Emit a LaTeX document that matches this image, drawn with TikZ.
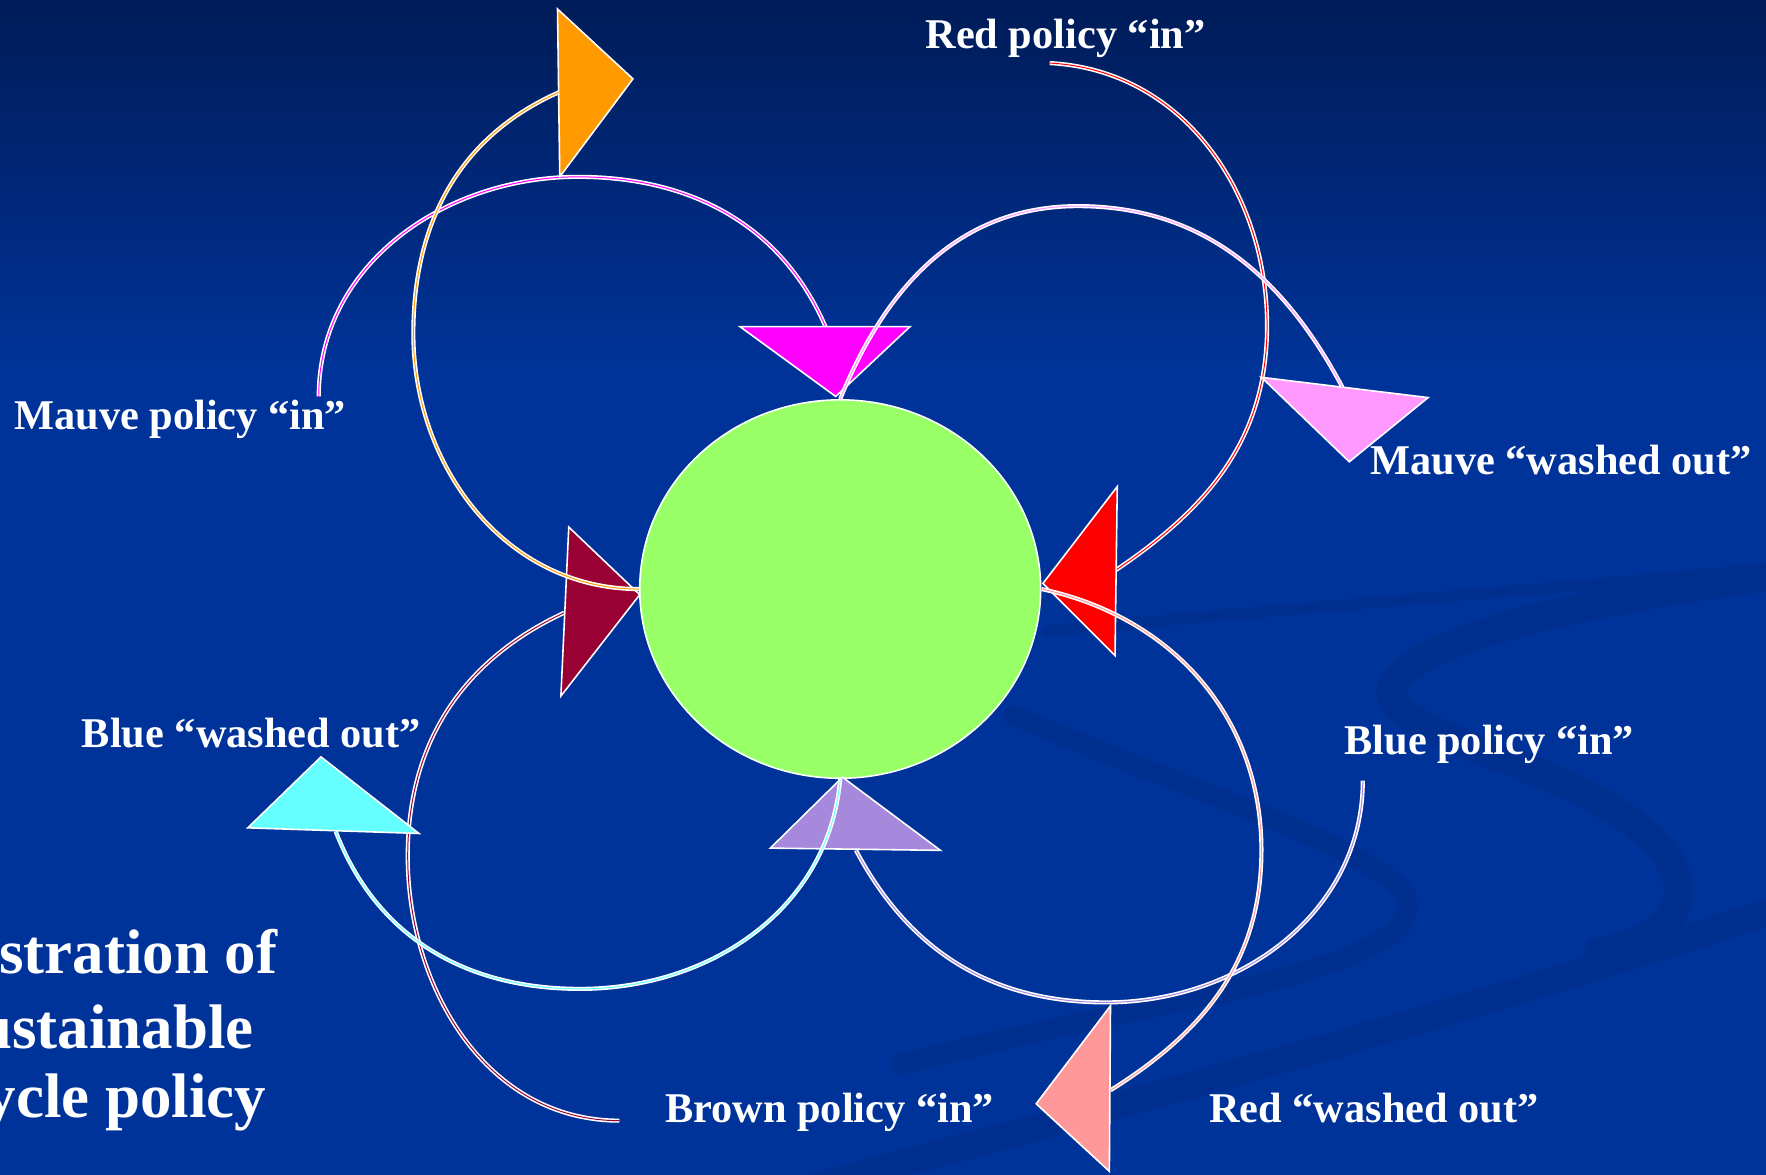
\documentclass[tikz,border=0pt]{standalone}
\usepackage{fontspec}
\setmainfont{Liberation Serif}
\usetikzlibrary{shapes.geometric}

\definecolor{bgtop}{HTML}{001C58}
\definecolor{bgblue}{HTML}{003399}
\definecolor{swoosh}{HTML}{002F90}
\definecolor{hubgreen}{HTML}{99FF66}
\definecolor{orangeA}{HTML}{FF9900}
\definecolor{magentaA}{HTML}{FF00FF}
\definecolor{mauvewash}{HTML}{FF99FF}
\definecolor{redA}{HTML}{FF0000}
\definecolor{maroonA}{HTML}{990033}
\definecolor{cyanA}{HTML}{66FFFF}
\definecolor{lavenderA}{HTML}{A688DC}
\definecolor{salmonA}{HTML}{FF9999}

\tikzset{
  tri/.style={draw=white, line width=0.4pt},
  flow/.style={draw=white, double=#1, double distance=0.25pt, line width=0.4pt},
  hub/.style={ellipse, fill=hubgreen, draw=white, line width=0.4pt,
    minimum width=35.6mm, minimum height=33.6mm, inner sep=0pt},
  lbl/.style={text=white, font=\fontsize{10.7}{12}\selectfont\bfseries,
    inner sep=0pt, anchor=base west},
  ttl/.style={text=white, font=\fontsize{15.9}{19}\selectfont\bfseries,
    inner sep=0pt, anchor=base east},
  band/.style={draw=swoosh, line cap=round},
}

\begin{document}
\begin{tikzpicture}[x=0.1mm, y=0.1mm]
    \useasboundingbox (0,0) rectangle (1568,-1043);
    \clip (0,0) rectangle (1568,-1043);

    % Fond
    \fill[bgblue] (0,0) rectangle (1568,-1043);
    \shade[top color=bgtop, bottom color=bgblue] (0,0) rectangle (1568,-330);
    \draw[band, line width=1mm] (930,-560) .. controls (1150,-540) and (1350,-525) .. (1568,-505);
    \draw[band, line width=2.6mm] (1568,-512) .. controls (1400,-535) and (1240,-570) .. (1235,-615)
        .. controls (1240,-660) and (1420,-680) .. (1480,-760)
        .. controls (1510,-810) and (1470,-835) .. (1420,-845);
    \draw[band, line width=1.8mm] (900,-635) .. controls (1050,-700) and (1200,-745) .. (1245,-790)
        .. controls (1270,-830) and (1200,-860) .. (1010,-897)
        .. controls (900,-920) and (840,-935) .. (800,-945);
    \draw[band, line width=2.4mm] (700,-1060) .. controls (1000,-980) and (1300,-900) .. (1568,-810);

    % Centre
    \node[hub] (hub) at (746,-523) {};

    % Etiquettes
    \node[lbl] (mauvein) at (12,-381) {Mauve policy “in”};
    \node[lbl] (redin) at (821,-43) {Red policy “in”};
    \node[lbl] (mauveout) at (1216,-421) {Mauve “washed out”};
    \node[lbl] (blueout) at (72,-664) {Blue “washed out”};
    \node[lbl] (bluein) at (1193,-670) {Blue policy “in”};
    \node[lbl] (brownin) at (590,-997) {Brown policy “in”};
    \node[lbl] (redout) at (1073,-997) {Red “washed out”};

    % Titre (coupé à gauche)
    \node[ttl] (title1) at (247,-864) {stration of};
    \node[ttl] (title2) at (226,-931) {ustainable};
    \node[ttl] (title3) at (237,-992) {ycle policy};

    % Extrémités des courbes
    \coordinate (mauvestart) at (283,-352);
    \coordinate (magentaend) at (737,-300);
    \coordinate (redstart) at (932,-56);
    \coordinate (redend) at (991,-506);
    \coordinate (bluestart) at (1210,-693);
    \coordinate (lavenderend) at (760,-755);
    \coordinate (brownstart) at (550,-995);
    \coordinate (maroonend) at (501,-544);
    \coordinate (pinkend) at (1192,-344);
    \coordinate (salmonend) at (986,-968);
    \coordinate (cyanend) at (298,-738);
    \coordinate (orangeend) at (496,-82);

    % Politiques "in"
    \draw[flow=magentaA] (mauvestart) to[out=90, in=180] (513,-157) to[out=0, in=111] (magentaend);
    \draw[flow=redA] (redstart) to[out=-3, in=90] (1125,-289) to[out=-90, in=34] (redend);
    \draw[flow=lavenderA] (bluestart) to[out=-90, in=0] (982,-890) to[out=180, in=-62] (lavenderend);
    \draw[flow=maroonA] (brownstart) to[out=180, in=-90] (362,-760) to[out=90, in=-155] (maroonend);

    % Triangles
    \filldraw[tri, fill=orangeA] (495,-8) -- (562,-70) -- (497,-157) -- cycle;
    \filldraw[tri, fill=magentaA] (657,-290) -- (808,-290) -- (742,-352) -- cycle;
    \filldraw[tri, fill=mauvewash] (1120,-335) -- (1268,-353) -- (1198,-410) -- cycle;
    \filldraw[tri, fill=redA] (992,-432) -- (926,-518) -- (990,-582) -- cycle;
    \filldraw[tri, fill=maroonA] (505,-468) -- (568,-528) -- (498,-618) -- cycle;
    \filldraw[tri, fill=cyanA] (285,-672) -- (220,-735) -- (372,-740) -- cycle;
    \filldraw[tri, fill=lavenderA] (748,-690) -- (684,-753) -- (835,-755) -- cycle;
    \filldraw[tri, fill=salmonA] (986,-893) -- (920,-980) -- (985,-1040) -- cycle;

    % Sorties "washed out"
    \draw[flow=mauvewash] (hub.north) to[out=68, in=180] (957,-183) to[out=0, in=118] (pinkend);
    \draw[flow=salmonA] (hub.east) to[out=-12, in=90] (1120,-755) to[out=-90, in=32] (salmonend);
    \draw[flow=cyanA] (hub.south) to[out=-95, in=0] (515,-878) to[out=180, in=-69] (cyanend);
    \draw[flow=orangeA] (hub.west) to[out=180, in=-90] (367,-296) to[out=90, in=-156] (orangeend);
\end{tikzpicture}
\end{document}
